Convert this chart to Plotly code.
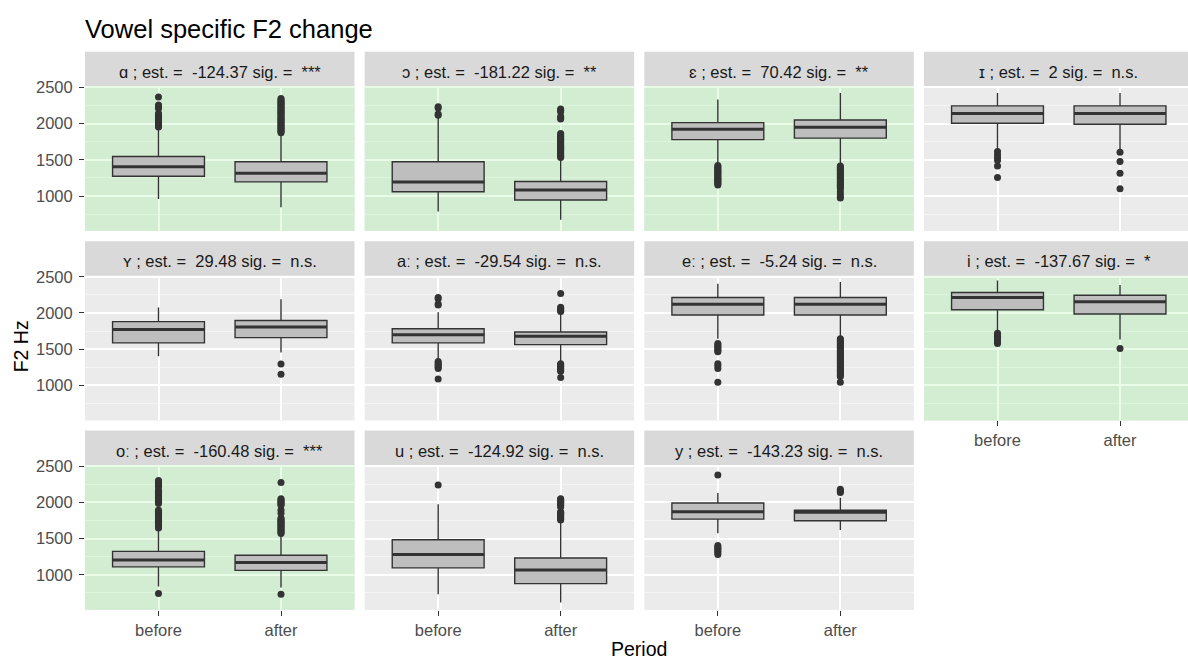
import plotly.graph_objects as go

# ---------------------------------------------------------------- data
vowels = ["ɑ", "ɔ", "ɛ", "ɪ", "ʏ", "aː", "eː", "i", "oː", "u", "y"]
estimates = ["-124.37", "-181.22", "70.42", "2", "29.48", "-29.54", "-5.24",
             "-137.67", "-160.48", "-124.92", "-143.23"]
signif = ["***", "**", "**", "n.s.", "n.s.", "n.s.", "n.s.", "*", "***", "n.s.", "n.s."]
periods = ["before", "after"]

# box statistics (F2, Hz) -- period "before"
before_q1 = [1273, 1059, 1778, 2004, 1587, 1587, 1972, 2045, 1110, 1096, 1769]
before_median = [1404, 1195, 1922, 2140, 1772, 1700, 2122, 2214, 1205, 1279, 1869]
before_q3 = [1546, 1472, 2013, 2245, 1881, 1782, 2214, 2282, 1324, 1483, 1991]
before_low = [960, 787, 1440, 1641, 1404, 1350, 1645, 1737, 837, 733, 1573]
before_high = [1945, 2090, 2331, 2422, 2077, 2009, 2404, 2449, 1630, 1974, 2128]

# box statistics (F2, Hz) -- period "after"
after_q1 = [1195, 946, 1799, 1990, 1659, 1563, 1972, 1986, 1061, 878, 1746]
after_median = [1314, 1082, 1949, 2140, 1805, 1677, 2122, 2154, 1170, 1065, 1865]
after_q3 = [1472, 1200, 2050, 2245, 1895, 1737, 2214, 2245, 1269, 1232, 1892]
after_low = [845, 673, 1430, 1632, 1455, 1327, 1668, 1632, 824, 619, 1619]
after_high = [1860, 1520, 2422, 2422, 2191, 1986, 2426, 2385, 1555, 1733, 2064]

# outlying tokens beyond the whiskers
before_outliers = [
    [1952, 1968, 1981, 1995, 2010, 2024, 2041, 2055, 2068, 2083, 2097, 2112, 2126, 2140,
     2208, 2232, 2255, 2368],
    [2115, 2132, 2214, 2232],
    [1152, 1168, 1183, 1199, 1215, 1230, 1246, 1262, 1277, 1293, 1309, 1324, 1340, 1356,
     1372, 1388, 1404, 1420],
    [1255, 1415, 1495, 1530, 1570, 1615],
    [],
    [1087, 1235, 1250, 1270, 1290, 1310, 1330, 2110, 2125, 2195, 2212],
    [1045, 1235, 1270, 1300, 1465, 1480, 1500, 1520, 1540, 1560, 1580],
    [1580, 1600, 1620, 1640, 1660, 1680, 1700, 1720],
    [742, 1645, 1660, 1676, 1691, 1707, 1722, 1738, 1753, 1769, 1784, 1800, 1815, 1831,
     1846, 1862, 1877, 1890, 1985, 2000, 2016, 2031, 2047, 2062, 2078, 2093, 2109, 2124,
     2140, 2155, 2165, 2212, 2228, 2245, 2262, 2280, 2301],
    [2241],
    [1280, 1300, 1325, 1345, 1365, 1385, 1405, 2377],
]
after_outliers = [
    [1872, 1888, 1903, 1919, 1934, 1950, 1966, 1981, 1997, 2012, 2028, 2044, 2060, 2075,
     2091, 2106, 2122, 2138, 2153, 2169, 2185, 2200, 2216, 2232, 2247, 2263, 2279, 2294,
     2310, 2326, 2345],
    [1532, 1548, 1563, 1579, 1594, 1610, 1626, 1641, 1657, 1672, 1688, 1704, 1719, 1735,
     1750, 1766, 1782, 1797, 1813, 1829, 1845, 1862, 2062, 2078, 2096, 2164, 2184, 2200],
    [972, 988, 1022, 1058, 1103, 1118, 1134, 1150, 1165, 1181, 1197, 1212, 1228, 1244,
     1259, 1275, 1291, 1306, 1322, 1338, 1354, 1369, 1385, 1401, 1416],
    [1100, 1315, 1475, 1605],
    [1155, 1295],
    [1110, 1195, 1210, 1225, 1240, 1255, 1270, 1285, 1300, 2020, 2035, 2050, 2065, 2080,
     2268],
    [1045, 1123, 1140, 1158, 1175, 1193, 1210, 1228, 1245, 1263, 1280, 1298, 1315, 1333,
     1350, 1368, 1385, 1403, 1420, 1438, 1455, 1473, 1490, 1508, 1525, 1543, 1560, 1578,
     1595, 1613, 1630, 1645],
    [1509],
    [733, 1570, 1585, 1600, 1616, 1631, 1646, 1662, 1677, 1692, 1708, 1723, 1738, 1754,
     1769, 1780, 1850, 1890, 1960, 1975, 1990, 2005, 2020, 2035, 2050, 2273],
    [1756, 1771, 1786, 1801, 1816, 1831, 1846, 1861, 1869, 1937, 1952, 1967, 1982, 1997,
     2012, 2027, 2042, 2050],
    [2135, 2150, 2165, 2180],
]

y_ticks = [1000, 1500, 2000, 2500]

# ---------------------------------------------------------------- styling
W, H = 1188, 664
FONT = "Liberation Sans, Arial, DejaVu Sans, sans-serif"
BOX_W = 0.75
GRAY_BG, GREEN_BG = "#EBEBEB", "#D2EDD2"
STRIP_BG = "#D9D9D9"
INK = "#333333"

NCOL = 4
col_left = [85 + c * 279.67 for c in range(NCOL)]
panel_w = 269.5
strip_h, panel_h = 35.0, 146.5
row_top = [44.3 + r * 191.7 for r in range(3)]
y_range = [516, 2514]

fig = go.Figure()
shapes, annotations = [], []
layout_axes = {}
n = len(vowels)

for k in range(n):
    r, c = divmod(k, NCOL)
    sig = signif[k] != "n.s."
    ax = "" if k == 0 else str(k + 1)
    xa, ya = "x" + ax, "y" + ax

    left = col_left[c]
    right = min(left + panel_w, W)
    ptop = row_top[r] + strip_h
    pbot = ptop + panel_h
    x_hi = 0.4 + 2.2 * (right - left) / panel_w

    show_x = (k + NCOL >= n)
    show_y = (c == 0)
    grid_major = "#E8FCE8" if sig else "#FFFFFF"
    grid_minor = "#DDF5DD" if sig else "#F4F4F4"

    layout_axes["xaxis" + ax] = dict(
        domain=[left / W, right / W], anchor=ya, range=[0.4, x_hi],
        tickvals=[1, 2], ticktext=periods, showticklabels=show_x,
        ticks="outside" if show_x else "", ticklen=5, tickwidth=1.3, tickcolor=INK,
        showgrid=True, gridcolor=grid_major, gridwidth=1.6,
        zeroline=False, showline=False, fixedrange=True,
        tickfont=dict(family=FONT, size=16.5, color="#4D4D4D"),
    )
    layout_axes["yaxis" + ax] = dict(
        domain=[1 - pbot / H, 1 - ptop / H], anchor=xa, range=y_range,
        tickvals=y_ticks, showticklabels=show_y,
        ticks="outside" if show_y else "", ticklen=5, tickwidth=1.3, tickcolor=INK,
        ticklabelstandoff=3,
        showgrid=True, gridcolor=grid_major, gridwidth=1.6,
        minor=dict(tickvals=[750, 1250, 1750, 2250], showgrid=True,
                   gridcolor=grid_minor, gridwidth=0.8, ticks=""),
        zeroline=False, showline=False, fixedrange=True,
        tickfont=dict(family=FONT, size=16.5, color="#4D4D4D"),
    )

    # panel background (green where the change is significant)
    if sig:
        shapes.append(dict(type="rect", xref="paper", yref="paper", layer="below",
                           x0=left / W, x1=right / W, y0=1 - pbot / H, y1=1 - ptop / H,
                           fillcolor=GREEN_BG, line=dict(width=0)))
    # facet strip
    shapes.append(dict(type="rect", xref="paper", yref="paper", layer="below",
                       x0=left / W, x1=right / W, y0=1 - ptop / H, y1=1 - row_top[r] / H,
                       fillcolor=STRIP_BG, line=dict(width=0)))
    label = f"{vowels[k]} ; est. =\u00a0 {estimates[k]} sig. =\u00a0 {signif[k]}"
    annotations.append(dict(text=label, xref="paper", yref="paper", showarrow=False,
                            x=(left + panel_w / 2) / W, y=1 - (row_top[r] + 20.5) / H,
                            xanchor="center", yanchor="middle",
                            font=dict(family=FONT, size=16.5, color="#1A1A1A")))

    # boxes
    fig.add_trace(go.Box(
        x=[1, 2], xaxis=xa, yaxis=ya,
        q1=[before_q1[k], after_q1[k]],
        median=[before_median[k], after_median[k]],
        q3=[before_q3[k], after_q3[k]],
        lowerfence=[before_low[k], after_low[k]],
        upperfence=[before_high[k], after_high[k]],
        width=BOX_W, whiskerwidth=0, boxpoints=False,
        fillcolor="#BEBEBE", line=dict(color=INK, width=1.4),
        hoverinfo="skip", showlegend=False,
    ))
    # thicker median bars
    mx, my = [], []
    for pos, med in ((1, before_median[k]), (2, after_median[k])):
        mx += [pos - BOX_W / 2, pos + BOX_W / 2, None]
        my += [med, med, None]
    fig.add_trace(go.Scatter(x=mx, y=my, xaxis=xa, yaxis=ya, mode="lines",
                             line=dict(color=INK, width=3), hoverinfo="skip",
                             showlegend=False))
    # outliers
    ox = [1] * len(before_outliers[k]) + [2] * len(after_outliers[k])
    oy = before_outliers[k] + after_outliers[k]
    fig.add_trace(go.Scatter(x=ox, y=oy, xaxis=xa, yaxis=ya, mode="markers",
                             marker=dict(color=INK, size=7, line=dict(width=0)),
                             hoverinfo="skip", showlegend=False))

# titles
annotations.append(dict(text="Vowel specific F2 change", xref="paper", yref="paper",
                        x=83 / W, y=1 - 21 / H, xanchor="left", yanchor="middle",
                        showarrow=False, font=dict(family=FONT, size=25.5, color="#000000")))
annotations.append(dict(text="F2 Hz", xref="paper", yref="paper", textangle=-90,
                        x=20.5 / W, y=1 - 343 / H, xanchor="center", yanchor="middle",
                        showarrow=False, font=dict(family=FONT, size=19.5, color="#000000")))
annotations.append(dict(text="Period", xref="paper", yref="paper",
                        x=639 / W, y=1 - 649 / H, xanchor="center", yanchor="middle",
                        showarrow=False, font=dict(family=FONT, size=19.5, color="#000000")))

fig.update_layout(
    width=W, height=H, margin=dict(l=0, r=0, t=0, b=0),
    paper_bgcolor="#FFFFFF", plot_bgcolor=GRAY_BG,
    shapes=shapes, annotations=annotations, showlegend=False,
    font=dict(family=FONT),
    **layout_axes,
)

fig.write_html("out.html", config={"displayModeBar": False})
